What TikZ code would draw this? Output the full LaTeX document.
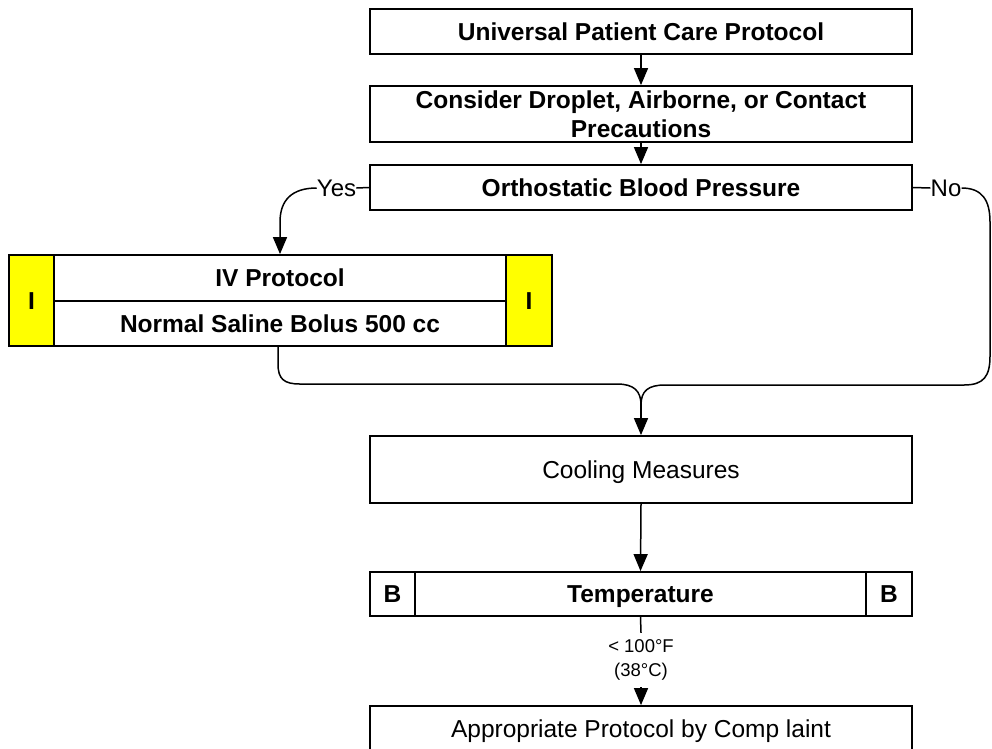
\documentclass[tikz,border=0pt]{standalone}
\usepackage{fontspec}
\setmainfont{Liberation Sans}
\usetikzlibrary{arrows.meta}
\definecolor{hiyellow}{RGB}{255,255,0}
\begin{document}
\begin{tikzpicture}[x=1pt,y=-1pt,
  box/.style={draw, line width=1.8pt, inner sep=0pt, align=center},
  oneline/.style={text height=20pt, text depth=2.5pt},
  boldtext/.style={font=\fontsize{24.5}{28}\selectfont\bfseries},
  regtext/.style={font=\fontsize{24.5}{28}\selectfont},
  ysbox/.style={box, fill=hiyellow, boldtext, oneline},
  conn/.style={line width=1.5pt},
  arr/.style={conn, -{Triangle[width=14pt,length=17pt]}},
  lbl/.style={inner sep=0pt, font=\fontsize{24}{28}\selectfont, oneline}
]
\useasboundingbox (0,0) rectangle (992,748);

% top boxes
\node[box, boldtext, oneline, minimum width=542pt, minimum height=45pt] (u) at (641,31.5) {Universal Patient Care Protocol};
\node[box, minimum width=542pt, minimum height=56pt, font=\fontsize{24.5}{29}\selectfont\bfseries] (c) at (641,114) {Consider Droplet, Airborne, or Contact\\Precautions};
\node[box, boldtext, oneline, minimum width=542pt, minimum height=45pt] (o) at (641,187.5) {Orthostatic Blood Pressure};

% IV box
\node[ysbox, minimum width=45pt, minimum height=91pt] (ivl) at (31.5,300.5) {I};
\node[ysbox, minimum width=46pt, minimum height=91pt] (ivr) at (529,300.5) {I};
\node[box, boldtext, oneline, minimum width=452pt, minimum height=46pt] (iv1) at (280,278) {IV Protocol};
\node[box, boldtext, oneline, minimum width=452pt, minimum height=45pt] (iv2) at (280,323.5) {Normal Saline Bolus 500 cc};

% cooling
\node[box, regtext, oneline, minimum width=542pt, minimum height=67pt] (cool) at (641,469.5) {Cooling Measures};

% temperature
\node[box, boldtext, oneline, minimum width=45pt, minimum height=44pt] (bl) at (392.5,594) {B};
\node[box, boldtext, oneline, minimum width=46pt, minimum height=44pt] (br) at (889,594) {B};
\node[box, boldtext, oneline, minimum width=451pt, minimum height=44pt] (t) at (640.5,594) {Temperature};

% appropriate
\node[box, regtext, oneline, minimum width=542pt, minimum height=46pt] (a) at (641,729) {Appropriate Protocol by Comp laint};

% connectors
\draw[arr] (u.south) -- (c.north);
\draw[arr] (c.south) -- (o.north);

\node[lbl] (yes) at (336.5,188) {Yes};
\node[lbl] (no) at (946,188) {No};
\draw[conn] (o.west) -- (yes.east);
\draw[conn] (o.east) -- (no.west);

\coordinate (yesdrop) at (280,222);
\draw[arr] (yes.west) .. controls (292,188) and (280,200) .. (yesdrop) -- (yesdrop |- iv1.north);

\coordinate (merge) at (641,405);
\coordinate (ivout) at (278,346);
\draw[conn] (ivout) -- (278,364) .. controls (278,379) and (284,384) .. (300,384) -- (617,384) .. controls (634,384) and (641,391) .. (merge);
\draw[conn] (no.east) .. controls (982,188) and (990,200) .. (990,222) -- (990,356) .. controls (990,376) and (984,385) .. (964,385) -- (665,385) .. controls (648,385) and (641,391) .. (merge);
\draw[arr] (merge) -- (cool.north);

\draw[arr] (cool.south) -- (t.north);

\node[inner sep=0pt, align=center, font=\fontsize{18.5}{24}\selectfont, minimum height=54pt] (tl) at (641,660) {< 100°F\\(38°C)};
\draw[conn] (t.south) -- (tl.north);
\draw[arr] (tl.south) -- (a.north);
\end{tikzpicture}
\end{document}
